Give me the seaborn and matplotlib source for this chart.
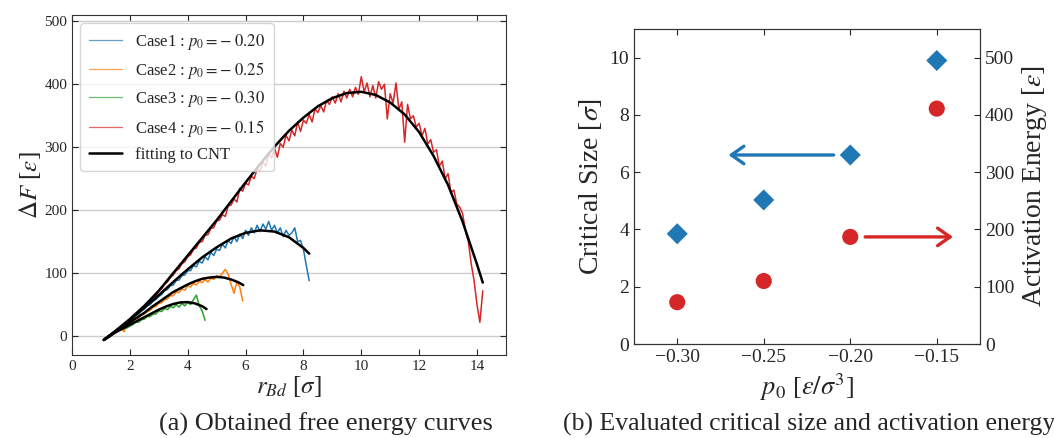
import numpy as np
import pandas as pd
import seaborn as sns
import matplotlib.pyplot as plt
from matplotlib.lines import Line2D

# ---------------- data: (a) free energy curves ----------------
case_labels = [r"Case1 : $p_0 = -\;0.20$", r"Case2 : $p_0 = -\;0.25$",
               r"Case3 : $p_0 = -\;0.30$", r"Case4 : $p_0 = -\;0.15$"]
case_colors = ["#1f77b4", "#ff7f0e", "#2ca02c", "#d62728"]

# raw Delta F, sampled every 0.1 sigma from r_Bd = 1.1
case1_dF = [-7, -3, 0, 4, 7, 11, 14, 18, 21, 25,
            28, 33, 35, 40, 43, 48, 50, 55, 58, 63,
            66, 72, 74, 80, 81, 88, 89, 96, 97, 104,
            104, 112, 110, 119, 116, 126, 121, 133, 128, 138,
            136, 146, 140, 152, 147, 158, 150, 162, 155, 168,
            160, 172, 164, 176, 166, 178, 170, 182, 168, 176,
            164, 172, 158, 168, 160, 164, 172, 150, 152, 138,
            112, 88]
case2_dF = [-6, -3, 0, 3, 6, 9, 12, 7, 18, 21,
            24, 27, 29, 33, 35, 39, 41, 46, 47, 52,
            53, 58, 59, 64, 64, 70, 69, 75, 73, 80,
            78, 84, 81, 87, 85, 90, 86, 92, 90, 96,
            94, 100, 106, 98, 82, 68, 86, 78, 56]
case3_dF = [-7, -3, 0, 3, 5, 8, 10, 12, 13, 16,
            18, 22, 22, 26, 27, 31, 31, 35, 35, 40,
            39, 44, 42, 47, 45, 50, 46, 52, 48, 54,
            50, 58, 65, 48, 40, 25]
case4_dF = [-5, -2, 1, 4, 8, 11, 15, 18, 22, 26,
            30, 35, 38, 43, 46, 52, 55, 61, 64, 71,
            75, 82, 86, 93, 97, 104, 107, 115, 118, 126,
            129, 138, 140, 149, 150, 160, 161, 171, 172, 183,
            184, 193, 190, 207, 208, 218, 213, 235, 230, 243,
            240, 254, 250, 266, 262, 276, 270, 290, 283, 298,
            284, 306, 300, 319, 310, 327, 318, 340, 325, 343,
            338, 352, 340, 361, 355, 366, 356, 374, 368, 380,
            370, 385, 372, 389, 378, 392, 380, 395, 384, 412,
            388, 402, 380, 398, 378, 404, 392, 400, 345, 385,
            370, 402, 360, 372, 308, 368, 345, 350, 332, 338,
            318, 330, 305, 312, 292, 296, 270, 278, 250, 258,
            228, 232, 210, 205, 195, 168, 150, 115, 88, 50,
            22, 72]
raw_curves = [case1_dF, case2_dF, case3_dF, case4_dF]

# CNT fits
fit1_r = [1.1, 1.5, 2.0, 2.5, 3.0, 3.5, 4.0, 4.5, 5.0, 5.5, 6.0, 6.5, 7.0, 7.5, 8.0, 8.2]
fit1_dF = [-6, 8, 26, 45, 65, 86, 106, 125, 141, 155, 164, 168, 166, 157, 140, 131]
fit2_r = [1.1, 1.5, 2.0, 2.5, 2.75, 3.0, 3.25, 3.5, 3.75, 4.0, 4.25, 4.5, 4.75,
          5.0, 5.25, 5.5, 5.75, 5.92]
fit2_dF = [-6, 7, 22, 37, 46, 54, 62, 70, 76, 82, 87, 91, 93, 94, 93, 90, 85.5, 81]
fit3_r = [1.1, 1.25, 1.5, 1.75, 2.0, 2.25, 2.5, 2.75, 3.0, 3.25, 3.5, 3.75, 4.0,
          4.25, 4.5, 4.65]
fit3_dF = [-6, -2, 6, 12, 18, 24, 30, 36, 42, 47, 51, 53.5, 54, 52, 47.5, 43]
fit4_r = [1.1, 1.5, 2.0, 2.5, 3.0, 3.5, 4.0, 4.5, 5.0, 5.5, 6.0, 6.5, 7.0, 7.5,
          8.0, 8.5, 9.0, 9.5, 10.0, 10.5, 11.0, 11.5, 12.0, 12.5, 13.0, 13.5,
          14.0, 14.2]
fit4_dF = [-6, 8, 27, 48, 72, 100, 128, 156, 184, 214, 244, 273, 301, 326,
           347, 365, 378, 386, 388, 383, 371, 352, 324, 286, 240, 182, 114, 85]
fits = [(fit1_r, fit1_dF), (fit2_r, fit2_dF), (fit3_r, fit3_dF), (fit4_r, fit4_dF)]

# ---------------- data: (b) critical size / activation energy ----------------
p0 = [-0.30, -0.25, -0.20, -0.15]
critical_size = [3.85, 5.03, 6.6, 9.9]
activation_energy = [73, 110, 187, 411]

# ---------------- style ----------------
sns.set_style("ticks")
plt.rcParams["font.family"] = ["Liberation Serif", "DejaVu Serif"]
plt.rcParams["mathtext.fontset"] = "stix"
plt.rcParams["axes.edgecolor"] = "#333333"
plt.rcParams["xtick.direction"] = "in"
plt.rcParams["ytick.direction"] = "in"

fig = plt.figure(figsize=(10.54, 4.38), dpi=100)
ax1 = fig.add_axes([0.0683, 0.1895, 0.4117, 0.7763])
ax2 = fig.add_axes([0.6015, 0.2146, 0.3283, 0.7192])

# ---- (a) ----
for vals, col in zip(raw_curves, case_colors):
    r = np.round(1.1 + 0.1 * np.arange(len(vals)), 2)
    df = pd.DataFrame({"r": r, "dF": vals})
    sns.lineplot(data=df, x="r", y="dF", ax=ax1, color=col, lw=1.1,
                 sort=False, errorbar=None)
for fr, fv in fits:
    sns.lineplot(x=fr, y=fv, ax=ax1, color="black", lw=1.8, sort=False,
                 errorbar=None)

ax1.set_xlim(0, 15)
ax1.set_ylim(-30, 510)
ax1.set_xticks(range(0, 15, 2))
ax1.set_yticks(range(0, 501, 100))
ax1.yaxis.grid(True, color="#cccccc", lw=1)
ax1.set_axisbelow(True)
ax1.tick_params(labelsize=11, top=True, right=True, length=4)
ax1.set_xlabel(r"$r_{Bd}$ [$\sigma$]", fontsize=18, labelpad=1)
ax1.set_ylabel(r"$\Delta F$ [$\varepsilon$]", fontsize=18, labelpad=1)

legend_handles = [Line2D([], [], color=c, lw=0.9, alpha=0.7) for c in case_colors]
legend_handles.append(Line2D([], [], color="black", lw=1.8))
ax1.legend(legend_handles, case_labels + ["fitting to CNT"], loc="upper left",
           fontsize=12, frameon=True, handlelength=2.0, borderpad=0.5,
           labelspacing=0.5, handletextpad=0.8)

# ---- (b) ----
ax3 = ax2.twinx()
sns.scatterplot(x=p0, y=critical_size, ax=ax2, marker="D", s=115,
                color="#1f77b4", edgecolor="none")
sns.scatterplot(x=p0, y=activation_energy, ax=ax3, marker="o", s=135,
                color="#d62728", edgecolor="none")
ax2.set_xlim(-0.325, -0.125)
ax2.set_ylim(0, 11)
ax3.set_ylim(0, 550)
ax2.set_xticks(p0)
ax2.set_xticklabels(["\u22120.30", "\u22120.25", "\u22120.20", "\u22120.15"])
ax2.set_yticks(range(0, 11, 2))
ax3.set_yticks(range(0, 501, 100))
ax2.tick_params(labelsize=14, top=True, length=4)
ax3.tick_params(labelsize=14, length=4)
ax2.set_xlabel(r"$p_0$ [$\varepsilon/\sigma^3$]", fontsize=19, labelpad=4)
ax2.set_ylabel(r"Critical Size [$\sigma$]", fontsize=20, labelpad=4)
ax3.set_ylabel(r"Activation Energy [$\varepsilon$]", fontsize=20, labelpad=4)

ax2.annotate("", xy=(-0.272, 6.6), xytext=(-0.208, 6.6),
             arrowprops=dict(arrowstyle="->,head_length=0.5,head_width=0.35",
                             color="#1f77b4", lw=2.4, mutation_scale=18))
ax3.annotate("", xy=(-0.139, 187), xytext=(-0.193, 187),
             arrowprops=dict(arrowstyle="->,head_length=0.5,head_width=0.35",
                             color="#d62728", lw=2.4, mutation_scale=18))

fig.text(0.309, 0.032, "(a) Obtained free energy curves", fontsize=19,
         ha="center", va="center")
fig.text(0.534, 0.032, "(b) Evaluated critical size and activation energy",
         fontsize=18.5, ha="left", va="center")

fig.savefig("out.png", dpi=100)
